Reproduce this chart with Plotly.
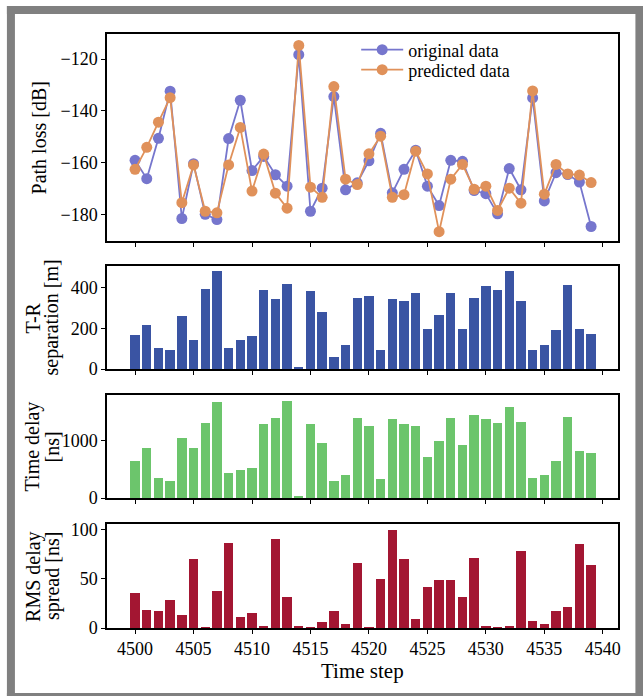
import plotly.graph_objects as go
from plotly.subplots import make_subplots

# ---- data -------------------------------------------------------------
time_step = list(range(4500, 4540))

path_loss_original = [
    -159.1, -166.2, -150.6, -132.4, -181.6, -160.4, -180.0, -182.0, -150.7, -135.9,
    -163.1, -157.6, -164.7, -169.1, -118.3, -178.8, -169.9, -134.5, -170.5, -167.8,
    -159.3, -148.7, -171.7, -162.6, -155.2, -169.1, -176.6, -159.1, -159.5, -170.8,
    -172.0, -179.8, -162.3, -170.5, -135.0, -174.8, -163.9, -164.6, -167.5, -184.7,
]
path_loss_predicted = [
    -162.6, -154.1, -144.4, -134.9, -175.5, -160.9, -178.8, -179.4, -160.9, -146.4,
    -171.0, -156.7, -171.8, -177.6, -114.7, -169.5, -173.4, -130.6, -166.4, -168.5,
    -156.6, -149.8, -173.4, -172.4, -155.6, -164.4, -186.7, -166.4, -160.7, -170.3,
    -169.1, -178.5, -169.9, -175.7, -132.3, -172.2, -160.7, -164.4, -164.8, -167.7,
]
tr_separation = [
    170, 218, 105, 93, 262, 141, 394, 483, 103, 141,
    162, 392, 346, 419, 11, 386, 282, 57, 120, 350,
    359, 92, 345, 336, 374, 195, 267, 374, 197, 351,
    410, 391, 481, 333, 93, 120, 194, 414, 197, 172,
]
time_delay = [
    644, 867, 346, 293, 1042, 867, 1311, 1684, 445, 491,
    533, 1298, 1398, 1696, 30, 1293, 965, 293, 404, 1393,
    1252, 333, 1380, 1287, 1252, 726, 989, 1404, 924, 1451,
    1380, 1305, 1597, 1328, 346, 404, 656, 1416, 819, 789,
]
rms_delay_spread = [
    35.7, 18.2, 17.2, 28.8, 13.4, 70.2, 1.0, 37.3, 86.6, 11.6,
    15.4, 2.4, 90.4, 31.5, 2.0, 0.3, 6.2, 17.5, 3.8, 66.5,
    0.3, 49.6, 99.7, 69.9, 9.6, 42.1, 49.0, 49.0, 31.5, 71.2,
    2.0, 1.0, 2.0, 78.1, 7.5, 4.1, 17.2, 21.6, 85.3, 64.4,
]

x_ticks = list(range(4500, 4541, 5))
path_loss_ticks = [-180, -160, -140, -120]
tr_ticks = [0, 200, 400]
delay_ticks = [0, 1000]
rms_ticks = [0, 50, 100]

# ---- figure geometry (pixels) ------------------------------------------
W, H = 643, 696
L, R, T, B = 107, 643 - 617.6, 34, 696 - 628
PW, PH = W - L - R, H - T - B


def px_x(p):
    return (p - L) / PW


def px_y(p):
    return (H - B - p) / PH


FONT = "Liberation Serif"
BLUE_LINE = "#7676cd"
ORANGE_LINE = "#e0915a"

fig = make_subplots(rows=4, cols=1, shared_xaxes=True)

fig.add_trace(go.Scatter(
    x=time_step, y=path_loss_original, mode="lines+markers", name="original data",
    line=dict(color=BLUE_LINE, width=1.8),
    marker=dict(color=BLUE_LINE, size=11, line=dict(width=0)),
    legend="legend",
), row=1, col=1)
fig.add_trace(go.Scatter(
    x=time_step, y=path_loss_predicted, mode="lines+markers", name="predicted data",
    line=dict(color=ORANGE_LINE, width=1.8),
    marker=dict(color=ORANGE_LINE, size=11, line=dict(width=0)),
    legend="legend2",
), row=1, col=1)

fig.add_trace(go.Bar(x=time_step, y=tr_separation, width=0.8,
                     marker=dict(color="#3a54a3", line=dict(width=0)),
                     showlegend=False), row=2, col=1)
fig.add_trace(go.Bar(x=time_step, y=time_delay, width=0.8,
                     marker=dict(color="#6cc56c", line=dict(width=0)),
                     showlegend=False), row=3, col=1)
fig.add_trace(go.Bar(x=time_step, y=rms_delay_spread, width=0.8,
                     marker=dict(color="#a31632", line=dict(width=0)),
                     showlegend=False), row=4, col=1)

domains = [
    [px_y(241), 1.0],
    [px_y(369), px_y(266)],
    [px_y(498), px_y(395)],
    [0.0, px_y(524)],
]
y_ranges = [[-190.3, -110.3], [0, 508], [0, 1802], [0, 105.8]]
y_tickvals = [path_loss_ticks, tr_ticks, delay_ticks, rms_ticks]

axis_common = dict(
    showline=True, linecolor="black", linewidth=1.5, mirror=True,
    ticks="outside", ticklen=4, tickwidth=1.2, tickcolor="black",
    showgrid=False, zeroline=False,
    tickfont=dict(family=FONT, size=18, color="black"),
)

for i in range(4):
    n = "" if i == 0 else str(i + 1)
    fig.layout["yaxis" + n].update(
        domain=domains[i], range=y_ranges[i], tickvals=y_tickvals[i], **axis_common
    )
    fig.layout["xaxis" + n].update(
        range=[4497.6, 4541.3], tickvals=x_ticks,
        showticklabels=(i == 3), **axis_common
    )

# y-axis titles, one rotated text per line
y_titles = [
    ("Path loss [dB]", 40, (34 + 241) / 2),
    ("T-R", 33, (266 + 369) / 2),
    ("separation [m]", 52, (266 + 369) / 2),
    ("Time delay", 33, (395 + 498) / 2),
    ("[ns]", 52, (395 + 498) / 2),
    ("RMS delay", 33, (524 + 628) / 2),
    ("spread [ns]", 52, (524 + 628) / 2),
]
for text, xp, yp in y_titles:
    fig.add_annotation(
        text=text, xref="paper", yref="paper", x=px_x(xp), y=px_y(yp),
        xanchor="center", yanchor="middle", textangle=-90, showarrow=False,
        font=dict(family=FONT, size=20, color="black"),
    )

fig.add_annotation(
    text="Time step", xref="paper", yref="paper", x=px_x((107 + 617.6) / 2), y=px_y(671),
    xanchor="center", yanchor="middle", showarrow=False,
    font=dict(family=FONT, size=21, color="black"),
)

# grey frame around the figure
GREY = "#808080"
frame = [
    (7, 6, 643, 14),
    (7, 6, 15, 696),
    (635, 6, 643, 696),
    (7, 693, 643, 696),
]
for x0, y0, x1, y1 in frame:
    fig.add_shape(type="rect", xref="paper", yref="paper",
                  x0=px_x(x0), x1=px_x(x1), y0=px_y(y1), y1=px_y(y0),
                  fillcolor=GREY, line=dict(width=0), layer="above")

legend_style = dict(
    xanchor="left", yanchor="top",
    bgcolor="rgba(0,0,0,0)", borderwidth=0,
    font=dict(family=FONT, size=18, color="black"),
    itemwidth=42,
)

fig.update_layout(
    width=W, height=H,
    margin=dict(l=L, r=R, t=T, b=B, autoexpand=False),
    paper_bgcolor="white", plot_bgcolor="white",
    bargap=0,
    legend=dict(x=px_x(356), y=px_y(31.5), **legend_style),
    legend2=dict(x=px_x(356), y=px_y(51.5), **legend_style),
    font=dict(family=FONT, color="black"),
)

fig.write_html("out.html")
